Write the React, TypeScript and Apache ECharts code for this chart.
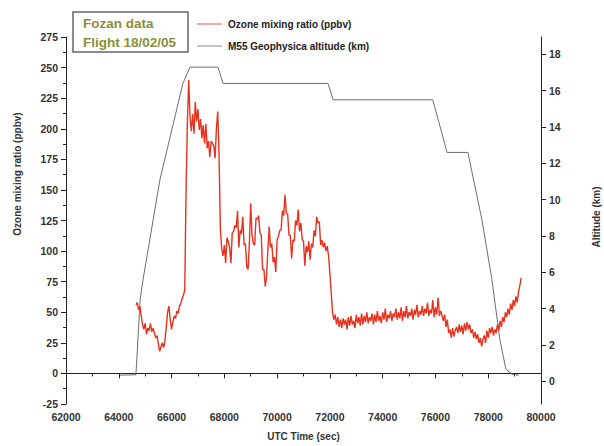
import React, { useEffect, useRef } from "react";
import * as echarts from "echarts";

// Ozone mixing ratio (ppbv), sampled every 50 s from 64650 s UTC
const ozoneStartSec = 64650;
const ozoneStepSec = 50;
const ozonePpbv = [
  // climb
  56, 58, 52, 55, 47, 40, 36, 41, 32, 37, 35, 41, 34, 37, 33, 29, 31, 24, 18, 22,
  25, 21, 27, 38, 50, 55, 44, 36, 42, 47, 45, 51, 49, 55, 57, 61, 64, 68, 150, 205,
  // first high-altitude leg
  240, 210, 198, 212, 196, 222, 206, 216, 199, 208, 192, 203, 188, 204, 184, 190, 177, 190, 188, 186,
  176, 200, 214, 178, 118, 102, 96,
  // second leg
  105, 90, 111, 108, 103, 90, 115, 116, 121, 119, 133, 103, 117, 114, 128, 105, 106, 87, 85, 107,
  139, 113, 106, 105, 127, 126, 129, 115, 113, 85, 85, 71, 79, 101, 120, 103, 106, 91, 95, 83,
  109, 112, 117, 117, 133, 129, 146, 131, 130, 113, 113, 94, 109, 108, 125, 121, 134, 116, 123, 110,
  108, 88, 104, 99, 108, 93, 106, 103, 117, 112, 128, 123, 124, 105, 109, 103, 107, 100, 104, 96,
  82, 66, 50, 44,
  // third leg
  48, 40, 46, 38, 44, 37, 45, 40, 44, 36, 46, 39, 47, 40, 43, 37, 48, 41, 46, 39,
  49, 40, 47, 42, 50, 41, 46, 43, 49, 40, 48, 42, 51, 43, 47, 41, 50, 44, 53, 42,
  48, 45, 51, 43, 49, 46, 53, 44, 50, 45, 54, 43, 51, 46, 55, 45, 50, 47, 53, 44,
  52, 48, 56, 46, 51, 48, 55, 47, 53, 49, 58, 47, 52, 49, 60, 46, 54, 48, 62, 47, 51,
  // descent
  47, 43, 48, 38, 44, 33, 36, 29, 37, 30, 35, 38, 33, 40, 34, 39, 32, 41, 35, 42,
  36, 40, 33, 36, 29, 34, 28, 32, 25, 29, 22, 28, 31, 25, 35, 29, 37, 33, 38, 31,
  36, 33, 40, 35, 43, 38, 46, 42, 50, 46, 53, 48, 57, 52, 60, 55, 63, 58, 67, 72, 78,
];

// M55 Geophysica flight altitude profile
const altitudeTimeSec = [
  64050, 64650, 64810, 64920, 65560, 66430, 66700, 67760, 67950, 71930,
  72120, 75900, 76440, 77230, 77760, 78140, 78440, 78670, 78900, 79160,
];
const altitudeKm = [
  0.33, 0.35, 4.5, 5.6, 11.1, 16.4, 17.3, 17.3, 16.4, 16.4,
  15.5, 15.5, 12.6, 12.6, 8.9, 5.6, 2.3, 0.66, 0.38, 0.33,
];

const altitudeTicksKm = [0, 2, 4, 6, 8, 10, 12, 14, 16, 18];

const titleLines = ["Fozan data", "Flight 18/02/05"];
const seriesNames = ["Ozone mixing ratio (ppbv)", "M55 Geophysica altitude (km)"];
const axisNames = { x: "UTC Time (sec)", left: "Ozone mixing ratio (ppbv)", right: "Altitude (km)" };

const FONT = "'Liberation Sans', Arial, sans-serif";
const OZONE_COLOR = "#e8321e";
const ALT_COLOR = "#6e6e6e";

export default function App() {
  const ref = useRef<HTMLDivElement>(null);

  useEffect(() => {
    if (!ref.current) return;
    const chart = echarts.init(ref.current, null, { renderer: "svg" });

    const ozoneData = ozonePpbv.map((v, i) => [ozoneStartSec + i * ozoneStepSec, v]);
    const altitudeData = altitudeTimeSec.map((t, i) => [t, altitudeKm[i]]);

    const tickLabel = { color: "#333", fontSize: 10.5, fontWeight: "bold" as const, fontFamily: FONT };
    const axisLine = { show: true, lineStyle: { color: "#222", width: 1 } };

    chart.setOption({
      animation: false,
      backgroundColor: "#fff",
      grid: { left: 66, right: 63, top: 37, bottom: 41 },
      xAxis: {
        type: "value",
        min: 62000,
        max: 80000,
        interval: 2000,
        axisLine,
        axisTick: { show: true, length: 5, lineStyle: { color: "#222" } },
        minorTick: { show: true, splitNumber: 2, length: 3, lineStyle: { color: "#222" } },
        splitLine: { show: false },
        axisLabel: {
          ...tickLabel,
          margin: 7,
          showMinLabel: true,
          showMaxLabel: true,
          formatter: (v: number) => String(v),
        },
        name: axisNames.x,
        nameLocation: "middle",
        nameGap: 27,
        nameTextStyle: { color: "#333", fontSize: 10, fontWeight: "bold", fontFamily: FONT },
      },
      yAxis: [
        {
          type: "value",
          position: "left",
          min: -25,
          max: 275,
          interval: 25,
          axisLine,
          axisTick: { show: true, length: 5, lineStyle: { color: "#222" } },
          minorTick: { show: true, splitNumber: 2, length: 3, lineStyle: { color: "#222" } },
          splitLine: { show: false },
          axisLabel: { ...tickLabel, margin: 8, showMinLabel: true, showMaxLabel: true },
        },
        {
          type: "value",
          position: "right",
          min: -1.26,
          max: 18.96,
          axisLine,
          axisTick: { show: true, length: 5, lineStyle: { color: "#222" }, customValues: altitudeTicksKm },
          splitLine: { show: false },
          axisLabel: { ...tickLabel, margin: 8, customValues: altitudeTicksKm },
        },
      ],
      series: [
        {
          name: seriesNames[1],
          type: "line",
          yAxisIndex: 1,
          data: altitudeData,
          showSymbol: false,
          lineStyle: { color: ALT_COLOR, width: 1 },
          itemStyle: { color: ALT_COLOR },
          z: 2,
        },
        {
          name: seriesNames[0],
          type: "line",
          yAxisIndex: 0,
          data: ozoneData,
          showSymbol: false,
          lineStyle: { color: OZONE_COLOR, width: 1.4 },
          itemStyle: { color: OZONE_COLOR },
          z: 3,
        },
      ],
      graphic: [
        // Title box
        {
          type: "rect",
          shape: { x: 73, y: 12, width: 115, height: 40 },
          style: { fill: "#fff", stroke: "#666", lineWidth: 1.5 },
          z: 10,
        },
        {
          type: "text",
          x: 83,
          y: 23,
          style: {
            text: titleLines[0],
            fill: "#8a8f3c",
            font: `bold 13.5px ${FONT}`,
            verticalAlign: "middle",
          },
          z: 11,
        },
        {
          type: "text",
          x: 83,
          y: 42,
          style: {
            text: titleLines[1],
            fill: "#8a8f3c",
            font: `bold 13.5px ${FONT}`,
            verticalAlign: "middle",
          },
          z: 11,
        },
        // Legend
        {
          type: "line",
          shape: { x1: 197, y1: 24, x2: 222, y2: 24 },
          style: { stroke: "#f05050", lineWidth: 1 },
        },
        {
          type: "text",
          x: 228,
          y: 24,
          style: {
            text: seriesNames[0],
            fill: "#222",
            font: `bold 10px ${FONT}`,
            verticalAlign: "middle",
          },
        },
        {
          type: "line",
          shape: { x1: 197, y1: 46, x2: 222, y2: 46 },
          style: { stroke: "#888", lineWidth: 1 },
        },
        {
          type: "text",
          x: 228,
          y: 46,
          style: {
            text: seriesNames[1],
            fill: "#222",
            font: `bold 10px ${FONT}`,
            verticalAlign: "middle",
          },
        },
        // Vertical axis titles
        {
          type: "text",
          x: 17,
          y: 174,
          rotation: Math.PI / 2,
          style: {
            text: axisNames.left,
            fill: "#333",
            font: `bold 10px ${FONT}`,
            align: "center",
            verticalAlign: "middle",
          },
        },
        {
          type: "text",
          x: 596,
          y: 217,
          rotation: Math.PI / 2,
          style: {
            text: axisNames.right,
            fill: "#333",
            font: `bold 10px ${FONT}`,
            align: "center",
            verticalAlign: "middle",
          },
        },
      ],
    });

    return () => chart.dispose();
  }, []);

  return (
    <div
      ref={ref}
      style={{ position: "fixed", left: 0, top: 0, width: 604, height: 446, background: "#fff" }}
    />
  );
}
